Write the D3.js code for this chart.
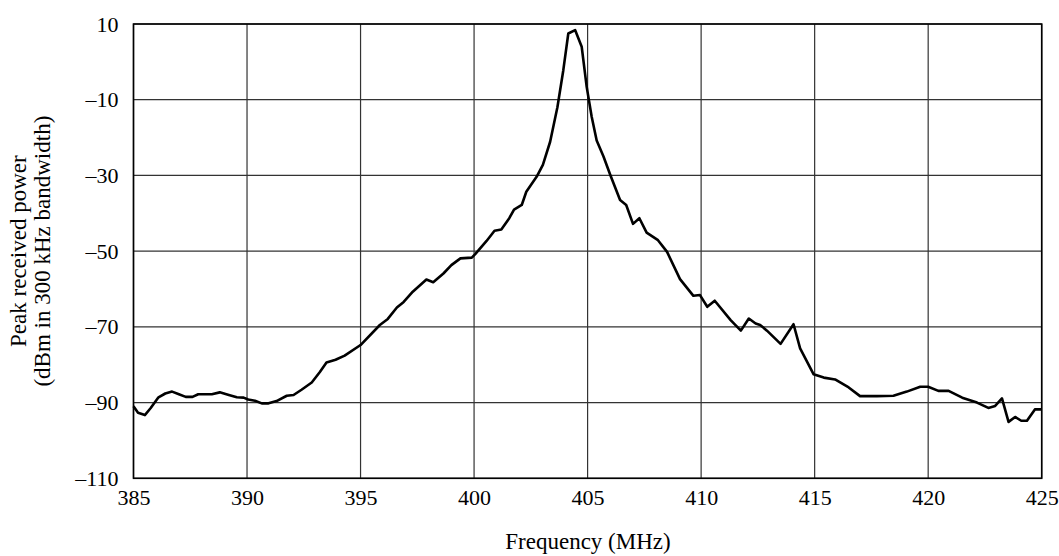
<!DOCTYPE html>
<html>
<head>
<meta charset="utf-8" />
<title>Peak received power vs frequency</title>
<style>
  body { margin: 0; background: #fff; }
  svg text { font-family: "Liberation Serif", "Times New Roman", serif; fill: #000; }
</style>
</head>
<body>
<svg id="chart" width="1059" height="556"></svg>
<script src="https://d3js.org/d3.v7.min.js"></script>
<script>
// values
var freq = [385.0, 385.2, 385.5, 385.75, 386.1, 386.4, 386.7, 387.0, 387.3, 387.6,
  387.85, 388.45, 388.8, 389.2, 389.55, 389.85, 390.05, 390.35, 390.65, 390.95,
  391.3, 391.75, 392.05, 392.4, 392.85, 393.2, 393.5, 393.9, 394.3, 395.0,
  395.85, 396.2, 396.6, 396.9, 397.3, 397.9, 398.2, 398.65, 399.0, 399.4,
  399.9, 400.05, 400.55, 400.9, 401.2, 401.55, 401.76, 402.1, 402.3, 402.76,
  403.03, 403.35, 403.67, 403.93, 404.15, 404.45, 404.74, 404.96, 405.18, 405.4,
  405.7, 406.0, 406.43, 406.7, 407.0, 407.28, 407.6, 408.1, 408.5, 409.07,
  409.66, 409.95, 410.27, 410.6, 411.3, 411.75, 412.1, 412.4, 412.6, 412.9,
  413.5, 414.07, 414.36, 414.95, 415.4, 415.9, 416.5, 417.0, 417.74, 418.47,
  419.06, 419.65, 420.0, 420.45, 420.9, 421.5, 422.15, 422.65, 422.95, 423.25,
  423.54, 423.83, 424.1, 424.35, 424.7, 425.0];
var power = [-91.0, -92.7, -93.3, -91.5, -88.6, -87.6, -87.1, -87.8, -88.5, -88.5,
  -87.8, -87.8, -87.3, -88.0, -88.6, -88.7, -89.2, -89.5, -90.2, -90.2,
  -89.6, -88.2, -88.0, -86.6, -84.7, -82.0, -79.4, -78.7, -77.6, -74.8,
  -69.5, -67.9, -64.9, -63.4, -60.7, -57.5, -58.2, -55.9, -53.7, -51.9,
  -51.7, -50.8, -47.3, -44.6, -44.3, -41.3, -39.0, -37.8, -34.3, -30.3,
  -27.2, -21.1, -12.0, -2.2, 7.5, 8.4, 4.0, -6.6, -14.5, -20.8,
  -25.0, -29.9, -36.5, -37.8, -42.8, -41.3, -45.1, -47.1, -50.2, -57.4,
  -61.8, -61.6, -64.7, -63.1, -68.2, -71.0, -67.8, -69.1, -69.5, -71.0,
  -74.5, -69.3, -75.7, -82.5, -83.4, -83.9, -86.0, -88.3, -88.3, -88.2,
  -87.1, -85.8, -85.8, -86.9, -86.9, -88.7, -90.0, -91.4, -90.9, -88.9,
  -95.1, -93.8, -94.8, -94.8, -91.8, -91.8];
var xTicks = [385, 390, 395, 400, 405, 410, 415, 420, 425];
var yTicks = [10, -10, -30, -50, -70, -90, -110];

var svg = d3.select("#chart");
var plotL = 133.5, plotR = 1041.7, plotT = 24, plotB = 478.3;

var x = d3.scaleLinear().domain([385, 425]).range([plotL, plotR]);
var y = d3.scaleLinear().domain([-110, 10]).range([plotB, plotT]);

function fmt(v) {
  return v < 0 ? "\u2013" + Math.abs(v) : "" + v;
}

// grid
svg.append("g").selectAll("line").data(xTicks).enter().append("line")
  .attr("x1", function(d){ return x(d); })
  .attr("x2", function(d){ return x(d); })
  .attr("y1", plotT).attr("y2", plotB)
  .attr("stroke", "#333").attr("stroke-width", 1.2);
svg.append("g").selectAll("line").data(yTicks).enter().append("line")
  .attr("x1", plotL).attr("x2", plotR)
  .attr("y1", function(d){ return y(d); })
  .attr("y2", function(d){ return y(d); })
  .attr("stroke", "#333").attr("stroke-width", 1.2);

// frame
svg.append("rect")
  .attr("x", plotL).attr("y", plotT)
  .attr("width", plotR - plotL).attr("height", plotB - plotT)
  .attr("fill", "none").attr("stroke", "#000").attr("stroke-width", 1.6);

// axes (labels only)
var xAxis = svg.append("g")
  .attr("transform", "translate(0," + plotB + ")")
  .call(d3.axisBottom(x).tickValues(xTicks).tickSize(0).tickPadding(11).tickFormat(fmt));
var yAxis = svg.append("g")
  .attr("transform", "translate(" + plotL + ",0)")
  .call(d3.axisLeft(y).tickValues(yTicks).tickSize(0).tickPadding(15).tickFormat(fmt));
[xAxis, yAxis].forEach(function(a){
  a.select(".domain").remove();
  a.selectAll("text")
    .style("font-family", "'Liberation Serif', 'Times New Roman', serif")
    .style("font-size", "22px").attr("fill", "#000");
});

// curve
var pts = freq.map(function(f, i){ return [f, power[i]]; });
var line = d3.line()
  .x(function(d){ return x(d[0]); })
  .y(function(d){ return y(d[1]); });
svg.append("path")
  .datum(pts)
  .attr("d", line)
  .attr("fill", "none")
  .attr("stroke", "#000")
  .attr("stroke-width", 2.6)
  .attr("stroke-linejoin", "round");

// axis titles
svg.append("text")
  .attr("x", 588).attr("y", 549)
  .attr("text-anchor", "middle")
  .style("font-size", "23px")
  .text("Frequency (MHz)");

var yt = svg.append("text")
  .attr("transform", "translate(0," + ((plotT + plotB) / 2) + ") rotate(-90)")
  .attr("text-anchor", "middle")
  .style("font-size", "23px");
yt.append("tspan").attr("x", 0).attr("y", 26).text("Peak received power");
yt.append("tspan").attr("x", 0).attr("y", 50).text("(dBm in 300 kHz bandwidth)");
</script>
</body>
</html>
